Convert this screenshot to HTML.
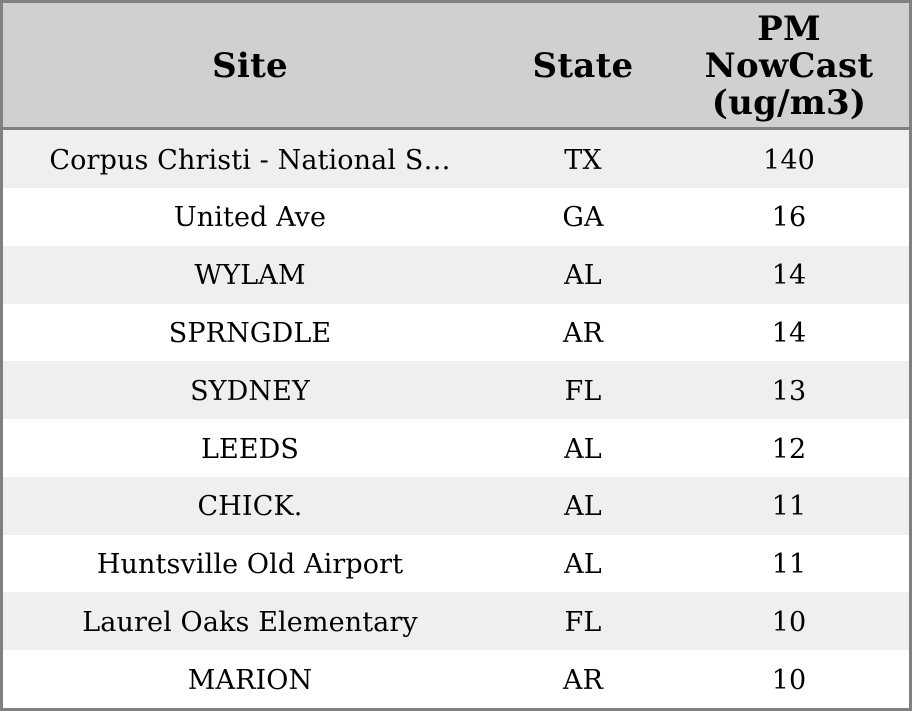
<!DOCTYPE html>
<html>
<head>
<meta charset="utf-8">
<style>
  html, body { margin: 0; padding: 0; background: #ffffff; }
  body { width: 912px; height: 711px; position: relative; overflow: hidden;
         font-family: "DejaVu Serif", "Liberation Serif", serif; color: #000; }
  .frame { position: absolute; left: 0; top: 0; width: 906px; height: 705px;
           border: 3px solid #808080; }
  .hdr { position: absolute; left: 3px; top: 3px; width: 906px; height: 124px; background: #d0d0d0; }
  .hline { position: absolute; left: 3px; top: 127px; width: 906px; height: 3px; background: #808080; }
  .row { position: absolute; left: 3px; width: 906px; height: 58px; }
  .odd { background: #efefef; }
  .cell { position: absolute; top: 0; height: 100%; display: flex; align-items: center; justify-content: center;
          text-align: center; white-space: nowrap; box-sizing: border-box; }
  .c1 { left: 0; width: 494px; }
  .c2 { left: 494px; width: 172px; }
  .c3 { left: 666px; width: 240px; }
  .row .cell { font-size: 27px; letter-spacing: 0.12px; padding-top: 2px; }
  .hdr .cell { font-size: 34px; font-weight: bold; line-height: 37px; letter-spacing: 0.25px; padding-top: 3px; }
</style>
</head>
<body>
<div class="hdr">
  <div class="cell c1">Site</div>
  <div class="cell c2">State</div>
  <div class="cell c3"><div>PM<br>NowCast<br>(ug/m3)</div></div>
</div>
<div class="hline"></div>

<div class="row odd" style="top:130px;">
  <div class="cell c1">Corpus Christi - National S…</div><div class="cell c2">TX</div><div class="cell c3">140</div>
</div>
<div class="row" style="top:187.8px;">
  <div class="cell c1">United Ave</div><div class="cell c2">GA</div><div class="cell c3">16</div>
</div>
<div class="row odd" style="top:245.6px;">
  <div class="cell c1">WYLAM</div><div class="cell c2">AL</div><div class="cell c3">14</div>
</div>
<div class="row" style="top:303.4px;">
  <div class="cell c1">SPRNGDLE</div><div class="cell c2">AR</div><div class="cell c3">14</div>
</div>
<div class="row odd" style="top:361.2px;">
  <div class="cell c1">SYDNEY</div><div class="cell c2">FL</div><div class="cell c3">13</div>
</div>
<div class="row" style="top:419px;">
  <div class="cell c1">LEEDS</div><div class="cell c2">AL</div><div class="cell c3">12</div>
</div>
<div class="row odd" style="top:476.8px;">
  <div class="cell c1">CHICK.</div><div class="cell c2">AL</div><div class="cell c3">11</div>
</div>
<div class="row" style="top:534.6px;">
  <div class="cell c1">Huntsville Old Airport</div><div class="cell c2">AL</div><div class="cell c3">11</div>
</div>
<div class="row odd" style="top:592.4px;">
  <div class="cell c1">Laurel Oaks Elementary</div><div class="cell c2">FL</div><div class="cell c3">10</div>
</div>
<div class="row" style="top:650.2px;">
  <div class="cell c1">MARION</div><div class="cell c2">AR</div><div class="cell c3">10</div>
</div>

<div class="frame"></div>
</body>
</html>
